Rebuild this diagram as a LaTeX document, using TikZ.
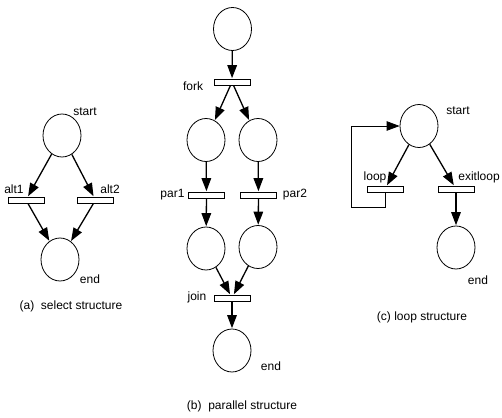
\documentclass[tikz,border=0pt]{standalone}
\usepackage{fontspec}
\setmainfont{Liberation Sans}
\usetikzlibrary{shapes.geometric,arrows.meta}
\tikzset{
  place/.style={draw,ellipse,minimum width=38pt,minimum height=43pt,inner sep=0pt,line width=0.8pt},
  trans/.style={draw,rectangle,minimum width=36pt,minimum height=6pt,inner sep=0pt,line width=0.8pt,fill=white},
  tip/.style={-{Triangle[length=13pt,width=9.5pt]}},
  arc/.style={line width=1.3pt,tip,shorten >=0.4pt},
  plainarc/.style={line width=0.8pt},
  lbl/.style={font=\fontsize{12}{14}\selectfont,inner sep=0pt}
}
\begin{document}
\begin{tikzpicture}[x=1pt,y=-1pt]
\useasboundingbox[fill=white] (0,0) rectangle (502,417);
% (a) select structure
\node[place] (astart) at (62,135.5) {};
\node[trans] (alt1) at (26,200) {};
\node[trans] (alt2) at (95.5,200) {};
\node[place] (aend) at (60,259.5) {};
\node[lbl] (la1) at (85,112) {start};
\node[lbl] (la2) at (14,189) {alt1};
\node[lbl] (la3) at (110,189) {alt2};
\node[lbl] (la4) at (90,279) {end};
\node[lbl] (la5) at (71,306) {(a)\ \ select structure};
\draw[arc] (astart) -- (alt1);
\draw[arc] (astart) -- (alt2);
\draw[arc] (alt1) -- (aend);
\draw[arc] (alt2) -- (aend);
% (b) parallel structure
\node[place] (btop) at (232.5,29) {};
\node[trans] (fork) at (232,82) {};
\node[place] (bl1) at (206,140) {};
\node[place] (br1) at (258,140) {};
\node[trans] (par1) at (206.5,195) {};
\node[trans] (par2) at (258.5,195) {};
\node[place] (bl2) at (206,248.5) {};
\node[place] (br2) at (258,247) {};
\node[trans] (join) at (232,298) {};
\node[place] (bend) at (232,350.5) {};
\node[lbl] (lb1) at (193,86) {fork};
\node[lbl] (lb2) at (172.5,195) {par1};
\node[lbl] (lb3) at (295,195) {par2};
\node[lbl] (lb4) at (197,297) {join};
\node[lbl] (lb5) at (271,366) {end};
\node[lbl] (lb6) at (242,406) {(b)\ \ parallel structure};
\draw[arc] (btop) -- (fork);
\draw[arc] (fork) -- (bl1);
\draw[arc] (fork) -- (br1);
\draw[arc] (bl1) -- (par1);
\draw[arc] (br1) -- (par2);
\draw[arc] (par1) -- (bl2);
\draw[arc] (par2) -- (br2);
\draw[arc] (bl2) -- (join);
\draw[arc] (br2) -- (join);
\draw[arc] (join) -- (bend);
% (c) loop structure
\node[place] (cstart) at (419,126) {};
\node[trans] (loop) at (385,189) {};
\node[trans] (exitl) at (456,189) {};
\node[place] (cend) at (456,247.5) {};
\node[lbl] (lc1) at (458,111) {start};
\node[lbl] (lc2) at (375,177) {loop};
\node[lbl] (lc3) at (479,177) {exitloop};
\node[lbl] (lc4) at (478,280) {end};
\node[lbl] (lc5) at (422,317) {(c) loop structure};
\coordinate (lback) at (351,207);
\draw[arc] (cstart) -- (loop);
\draw[arc] (cstart) -- (exitl);
\draw[arc] (exitl) -- (cend);
\draw[plainarc] (loop.south) |- (lback);
\draw[plainarc,tip] (lback) |- (cstart.west);
\end{tikzpicture}
\end{document}
